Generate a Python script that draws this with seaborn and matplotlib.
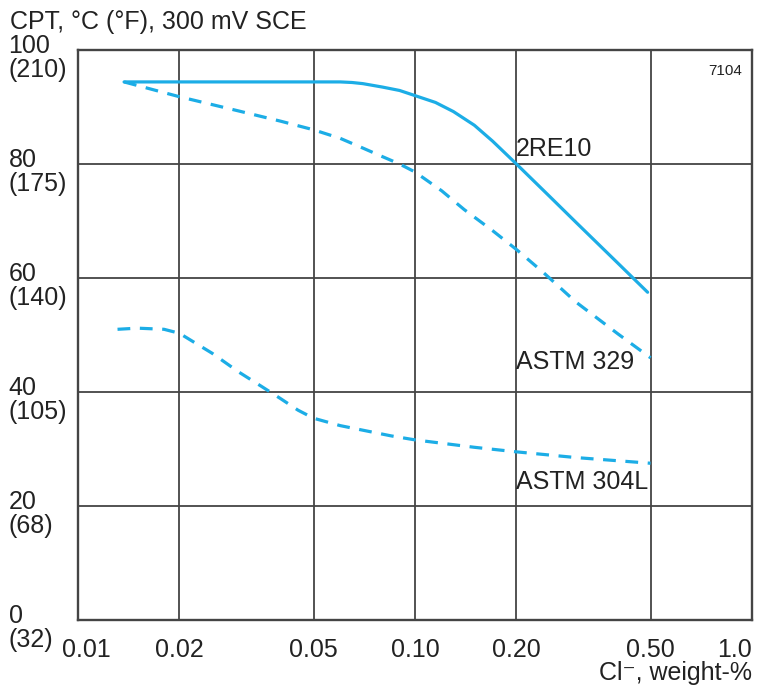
import matplotlib
matplotlib.use("Agg")
import matplotlib.pyplot as plt
import matplotlib.transforms as mtransforms
from matplotlib.ticker import NullLocator
import seaborn as sns
import pandas as pd

# CPT (deg C) vs chloride content (weight-%)
re10_cl = [0.0137, 0.03, 0.05, 0.06, 0.065, 0.07, 0.08, 0.09, 0.10, 0.115,
           0.13, 0.15, 0.17, 0.20, 0.25, 0.30, 0.40, 0.49]
re10_cpt = [94.4, 94.4, 94.4, 94.4, 94.3, 94.1, 93.5, 92.9, 92.0, 90.8,
            89.2, 86.8, 84.0, 80.0, 74.4, 69.8, 62.6, 57.5]

a329_cl = [0.0137, 0.02, 0.03, 0.04, 0.05, 0.06, 0.07, 0.08, 0.09, 0.10,
           0.12, 0.14, 0.17, 0.20, 0.24, 0.30, 0.40, 0.50]
a329_cpt = [94.4, 91.8, 89.3, 87.5, 86.0, 84.5, 82.8, 81.3, 80.0, 78.6,
            75.3, 72.0, 68.3, 65.0, 61.0, 55.8, 50.2, 46.0]

a304_cl = [0.0131, 0.015, 0.018, 0.02, 0.022, 0.025, 0.03, 0.035, 0.04,
           0.045, 0.05, 0.06, 0.07, 0.085, 0.10, 0.15, 0.20, 0.30, 0.50]
a304_cpt = [51.0, 51.2, 51.0, 50.3, 48.8, 46.8, 43.5, 41.0, 38.8,
            36.8, 35.4, 34.1, 33.3, 32.3, 31.6, 30.3, 29.5, 28.5, 27.5]

x_ticks = [0.01, 0.02, 0.05, 0.10, 0.20, 0.50, 1.0]
x_labels = ["0.01", "0.02", "0.05", "0.10", "0.20", "0.50", "1.0"]
y_ticks = [0, 20, 40, 60, 80, 100]
y_labels = ["0\n(32)", "20\n(68)", "40\n(105)", "60\n(140)", "80\n(175)", "100\n(210)"]

blue = "#1cade6"
gridc = "#444444"

sns.set_style("white")
plt.rcParams["font.family"] = ["Liberation Sans", "DejaVu Sans"]
plt.rcParams["font.size"] = 18

fig = plt.figure(figsize=(7.6, 6.86), dpi=100)
ax = fig.add_axes([78 / 760, 1 - 620 / 686, 674 / 760, 570 / 686])

re10 = pd.DataFrame({"cl": re10_cl, "cpt": re10_cpt})
a329 = pd.DataFrame({"cl": a329_cl, "cpt": a329_cpt})
a304 = pd.DataFrame({"cl": a304_cl, "cpt": a304_cpt})

sns.lineplot(data=re10, x="cl", y="cpt", ax=ax, color=blue, lw=2.3,
             estimator=None, sort=False)
sns.lineplot(data=a329, x="cl", y="cpt", ax=ax, color=blue, lw=2.3,
             estimator=None, sort=False, linestyle=(0, (4, 3)))
sns.lineplot(data=a304, x="cl", y="cpt", ax=ax, color=blue, lw=2.3,
             estimator=None, sort=False, linestyle=(0, (4, 3)))

ax.set_xscale("log")
ax.set_xlim(0.01, 1.0)
ax.set_ylim(0, 100)
ax.xaxis.set_minor_locator(NullLocator())
ax.set_xticks(x_ticks, x_labels)
ax.set_yticks(y_ticks, y_labels)
ax.grid(True, color=gridc, lw=1.3)
ax.set_axisbelow(True)
for sp in ax.spines.values():
    sp.set_color(gridc)
    sp.set_linewidth(1.7)
ax.set_xlabel("")
ax.set_ylabel("")

ax.tick_params(axis="both", length=0, labelsize=18, colors="#222222")
ax.tick_params(axis="x", pad=13)
ax.tick_params(axis="y", pad=50)
down = mtransforms.ScaledTranslation(0, -8 / 100, fig.dpi_scale_trans)
for lab in ax.get_yticklabels():
    lab.set_horizontalalignment("left")
    lab.set_verticalalignment("center")
    lab.set_linespacing(1.05)
    lab.set_transform(lab.get_transform() + down)
xl = ax.get_xticklabels()
xl[0].set_transform(xl[0].get_transform() +
                    mtransforms.ScaledTranslation(8 / 100, 0, fig.dpi_scale_trans))
xl[-1].set_horizontalalignment("right")

fig.text(10 / 760, 1 - 22 / 686, "CPT, °C (°F), 300 mV SCE", fontsize=18,
         va="center", ha="left", color="#222222")
fig.text(752 / 760, 1 - 673 / 686, "Cl⁻, weight-%", fontsize=18,
         va="center", ha="right", color="#222222")
ax.text(0.985, 0.975, "7104", transform=ax.transAxes, fontsize=11,
        ha="right", va="top", color="#222222")

ax.text(0.199, 82.6, "2RE10", fontsize=18, va="center", ha="left", color="#222222")
ax.text(0.199, 45.3, "ASTM 329", fontsize=18, va="center", ha="left", color="#222222")
ax.text(0.199, 24.2, "ASTM 304L", fontsize=18, va="center", ha="left", color="#222222")

fig.savefig("out.png", dpi=100)
plt.close(fig)
